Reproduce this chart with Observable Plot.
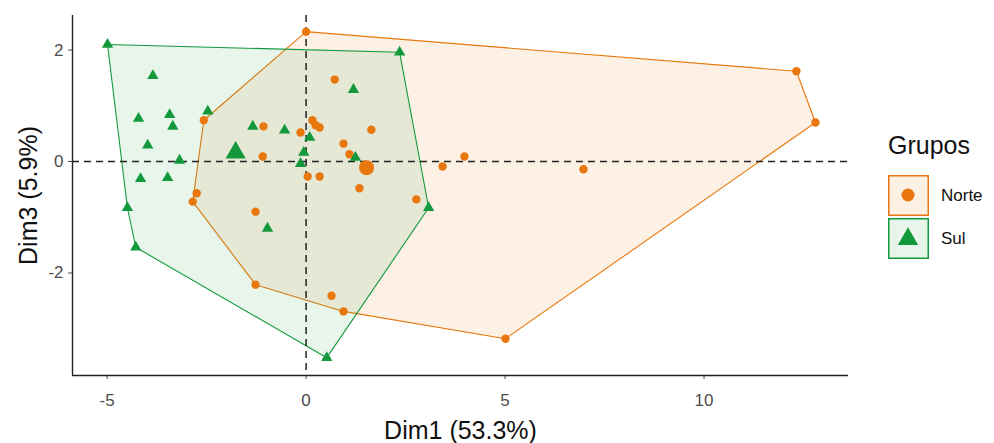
<!DOCTYPE html>
<html><head><meta charset="utf-8">
<script src="https://cdn.jsdelivr.net/npm/d3@7"></script>
<script src="https://cdn.jsdelivr.net/npm/@observablehq/plot@0.6"></script>
<style>
body{margin:0;background:#fff;font-family:"Liberation Sans",Arial,sans-serif;}
#wrap{position:relative;width:994px;height:443px;overflow:hidden;}
#legend{position:absolute;left:888px;top:131px;color:#111;}
#legend .title{font-size:25px;line-height:29px;margin-bottom:14px;}
#legend .row{display:flex;align-items:center;height:43px;}
#legend .row span{font-size:17px;margin-left:12px;}
</style></head><body><div id="wrap"></div>
<script>
const groups = ["Norte", "Sul"];
const groupColors = ["#E8770E", "#13993C"];
const norteX = [0.0, 12.32, 12.80, 5.01, 0.94, -1.27, -2.85, -2.75, -2.57, 0.72, -1.07, -0.14, 0.16, 0.24, 0.34, 1.64, 0.94, 1.09, -1.09, 0.04, 0.34, 1.34, 2.77, -1.27, 0.64, 3.98, 3.43, 6.97];
const norteY = [2.33, 1.62, 0.70, -3.18, -2.69, -2.21, -0.72, -0.57, 0.74, 1.47, 0.63, 0.52, 0.74, 0.65, 0.61, 0.57, 0.32, 0.13, 0.09, -0.27, -0.27, -0.48, -0.68, -0.90, -2.41, 0.09, -0.09, -0.14];
const sulX = [-4.99, 2.35, 3.08, 0.52, -4.28, -4.49, -3.85, -4.21, -3.43, -3.35, -3.98, -3.18, -2.47, -1.34, -4.16, -3.48, -0.97, 1.19, -0.54, 0.09, -0.06, 1.24, -0.14];
const sulY = [2.10, 1.96, -0.83, -3.52, -1.54, -0.83, 1.54, 0.77, 0.84, 0.63, 0.29, 0.02, 0.90, 0.63, -0.31, -0.29, -1.20, 1.29, 0.56, 0.43, 0.16, 0.07, -0.04];
const centroidX = [1.52, -1.77];
const centroidY = [-0.11, 0.16];
const xTicks = [-5, 0, 5, 10];
const yTicks = [-2, 0, 2];
const xDomain = [-5.87, 13.63];
const yDomain = [-3.84, 2.62];
const xLabel = "Dim1 (53.3%)";
const yLabel = "Dim3 (5.9%)";
const legendTitle = "Grupos";

const pts = [
  ...norteX.map((x, i) => ({x, y: norteY[i], g: "Norte"})),
  ...sulX.map((x, i) => ({x, y: sulY[i], g: "Sul"}))
];
const cents = groups.map((g, i) => ({x: centroidX[i], y: centroidY[i], g}));
const font = "'Liberation Sans', Arial, sans-serif";
const fmt = d => String(d);

const chart = Plot.plot({
  width: 994, height: 443,
  marginLeft: 72, marginRight: 146, marginTop: 15, marginBottom: 68,
  style: {fontFamily: font, background: "#fff", overflow: "visible"},
  x: {domain: xDomain},
  y: {domain: yDomain},
  color: {domain: groups, range: groupColors},
  symbol: {domain: groups, range: ["circle", "triangle"]},
  marks: [
    Plot.hull(pts, {x: "x", y: "y", z: "g", fill: "g", fillOpacity: 0.1, stroke: "g", strokeWidth: 1.1}),
    Plot.ruleX([0], {stroke: "#222", strokeWidth: 1.5, strokeDasharray: "7,5"}),
    Plot.ruleY([0], {stroke: "#222", strokeWidth: 1.5, strokeDasharray: "7,5"}),
    Plot.dot(pts, {x: "x", y: "y", fill: "g", symbol: "g", r: 4.2, stroke: "none"}),
    Plot.dot(cents, {x: "x", y: "y", fill: "g", symbol: "g", r: 7.5, stroke: "none"}),
    Plot.axisX({ticks: xTicks, tickFormat: fmt, tickSize: 4, tickPadding: 14, fontSize: 17, label: null, color: "#4d4d4d"}),
    Plot.axisY({ticks: yTicks, tickFormat: fmt, tickSize: 4, tickPadding: 5, fontSize: 17, label: null, color: "#4d4d4d"}),
    Plot.ruleX([xDomain[0]], {stroke: "#222", strokeWidth: 1.4}),
    Plot.ruleY([yDomain[0]], {stroke: "#222", strokeWidth: 1.4}),
    Plot.text([xLabel], {text: d => d, frameAnchor: "bottom", dy: 63, fontSize: 25, fill: "#111"}),
    Plot.text([yLabel], {text: d => d, frameAnchor: "left", textAnchor: "middle", dx: -44, rotate: -90, fontSize: 25, fill: "#111"})
  ]
});
const wrap = document.getElementById("wrap");
wrap.appendChild(chart);

const legend = document.createElement("div");
legend.id = "legend";
let html = `<div class="title">${legendTitle}</div>`;
groups.forEach((g, i) => {
  const c = groupColors[i];
  const sym = i === 0
    ? `<circle cx="20" cy="20" r="6.5" fill="${c}"/>`
    : `<path d="${d3.symbol(d3.symbolTriangle, 180)()}" transform="translate(20,21)" fill="${c}"/>`;
  html += `<div class="row"><svg width="41" height="41"><rect x="0.75" y="0.75" width="39.5" height="39.5" fill="${c}" fill-opacity="0.1" stroke="${c}" stroke-width="1.5"/>${sym}</svg><span>${g}</span></div>`;
});
legend.innerHTML = html;
wrap.appendChild(legend);
</script>
</body></html>
